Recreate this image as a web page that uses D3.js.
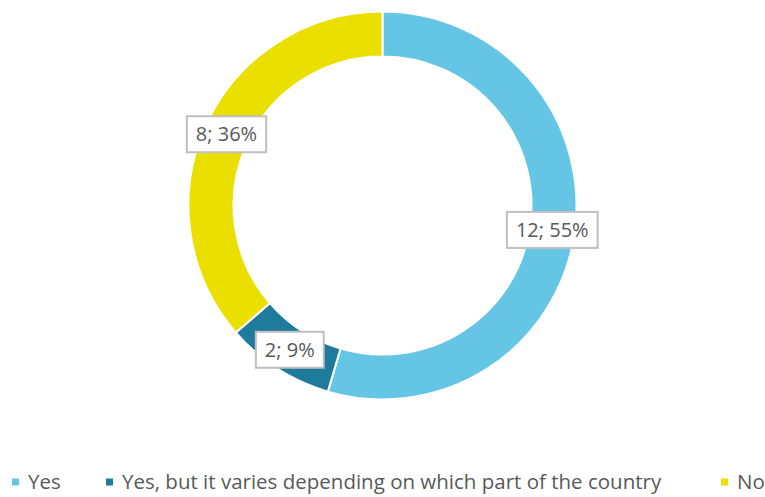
<!DOCTYPE html>
<html>
<head>
<meta charset="utf-8">
<script src="https://cdn.jsdelivr.net/npm/d3@7"></script>
<style>
  body { margin: 0; background: #fff; overflow: hidden; }
  text { font-family: "Open Sans", "Noto Sans", sans-serif; }
</style>
</head>
<body>
<script>
const width = 765, height = 497;

// data
const categories = ["Yes", "Yes, but it varies depending on which part of the country", "No"];
const counts = [12, 2, 8];
const percents = ["55%", "9%", "36%"];
const colors = ["#65c5e5", "#1f7b9c", "#ebdf00"];

const svg = d3.select("body").append("svg")
    .attr("width", width)
    .attr("height", height);

const cx = 382.5, cy = 205.5;
const outerR = 194, innerR = 149;

const pie = d3.pie().sort(null).value(d => d.value);
const arcs = pie(categories.map((c, i) => ({ name: c, value: counts[i], i })));

const arc = d3.arc().innerRadius(innerR).outerRadius(outerR);

const g = svg.append("g").attr("transform", `translate(${cx},${cy})`);

// donut slices
g.selectAll("path")
    .data(arcs)
    .enter()
    .append("path")
    .attr("d", arc)
    .attr("fill", d => colors[d.data.i])
    .attr("stroke", "#fff")
    .attr("stroke-width", 2);

// data labels with boxes, centred on the ring
arcs.forEach((d, i) => {
    const [x, y] = arc.centroid(d);
    const lg = g.append("g").attr("transform", `translate(${x},${y})`);
    const t = lg.append("text")
        .attr("text-anchor", "middle")
        .attr("dy", "0.36em")
        .attr("font-size", 20)
        .attr("fill", "#595959")
        .text(counts[i] + "; " + percents[i]);
    const bb = t.node().getBBox();
    lg.insert("rect", "text")
        .attr("x", bb.x - 9)
        .attr("y", -18)
        .attr("width", bb.width + 18)
        .attr("height", 36)
        .attr("fill", "#fff")
        .attr("stroke", "#bfbfbf")
        .attr("stroke-width", 2);
});

// legend
const legendX = [12, 106, 721];
const legend = svg.append("g").attr("transform", "translate(0,482)");
categories.forEach((c, i) => {
    legend.append("rect")
        .attr("x", legendX[i])
        .attr("y", -3.5)
        .attr("width", 7)
        .attr("height", 7)
        .attr("fill", colors[i]);
    legend.append("text")
        .attr("x", legendX[i] + 16)
        .attr("dy", "0.36em")
        .attr("font-size", 20.5)
        .attr("fill", "#595959")
        .text(c);
});
</script>
</body>
</html>
